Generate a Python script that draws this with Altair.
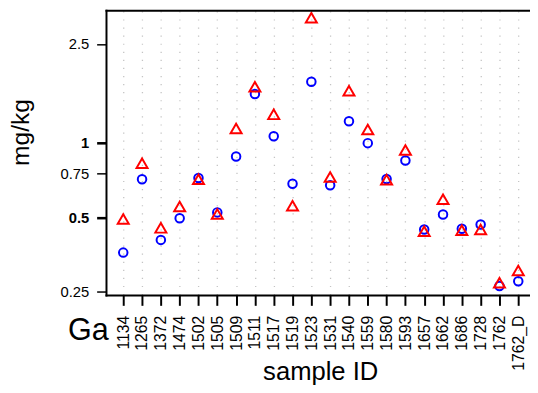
import altair as alt
import pandas as pd

samples = ["1134", "1265", "1372", "1474", "1502", "1505", "1509", "1511", "1517", "1519",
           "1523", "1531", "1540", "1559", "1580", "1593", "1657", "1662", "1686", "1728",
           "1762", "1762_D"]
circle_vals = [0.360, 0.712, 0.405, 0.495, 0.720, 0.523, 0.879, 1.57, 1.06, 0.682,
               1.76, 0.673, 1.22, 0.995, 0.713, 0.847, 0.446, 0.513, 0.449, 0.467,
               0.264, 0.276]
triangle_vals = [0.492, 0.826, 0.453, 0.552, 0.712, 0.515, 1.14, 1.68, 1.30, 0.556,
                 3.19, 0.727, 1.62, 1.13, 0.709, 0.934, 0.439, 0.591, 0.443, 0.446,
                 0.272, 0.305]
y_ticks = [0.25, 0.5, 0.75, 1, 2.5]
element = "Ga"

FONT = "Liberation Sans"
W, H = 430, 289

df_c = pd.DataFrame({"sample": samples, "value": circle_vals})
df_t = pd.DataFrame({"sample": samples, "value": triangle_vals})

bold_test = "datum.value == 1 || datum.value == 0.5"

x_enc = alt.X(
    "sample:N",
    sort=samples,
    scale=alt.Scale(type="point", padding=0.757, align=0.588),
    axis=alt.Axis(
        title="sample ID", titleFont=FONT, titleFontSize=26, titleFontWeight="normal",
        titleColor="black", titleX=217, titleY=85, titleBaseline="alphabetic",
        titleAlign="center",
        labelAngle=270, labelFont=FONT, labelFontSize=16, labelColor="black",
        labelPadding=10,
        tickSize=10, tickWidth=2, tickColor="black",
        grid=True, gridDash=[1.2, 7], gridColor="#c4c4c4", gridWidth=1.3,
        domain=False,
    ),
)

y_enc = alt.Y(
    "value:Q",
    scale=alt.Scale(type="log", domain=[0.2417, 3.40], nice=False, zero=False),
    axis=alt.Axis(
        values=y_ticks, labelExpr="'' + datum.value",
        title="mg/kg", titleFont=FONT, titleFontSize=25, titleFontWeight="normal",
        titleColor="black", titleAngle=270, titleX=-79.5, titleY=123,
        titleAlign="center", titleBaseline="alphabetic",
        labelFont=FONT, labelFontSize=15, labelColor="black", labelPadding=8,
        labelFontWeight={"condition": {"test": bold_test, "value": "bold"}, "value": "normal"},
        tickSize=10, tickColor="black",
        tickWidth={"condition": {"test": bold_test, "value": 2.6}, "value": 1.5},
        grid=False, domain=False,
    ),
)

circles = alt.Chart(df_c).mark_point(
    shape="circle", filled=False, color="#0000ff", size=75, strokeWidth=2, opacity=1
).encode(x=x_enc, y=y_enc)

triangles = alt.Chart(df_t).mark_point(
    shape="triangle-up", filled=False, color="#ff0000", size=125, strokeWidth=2, opacity=1
).encode(x=x_enc, y=y_enc)

label = alt.Chart(pd.DataFrame({"t": [element]})).mark_text(
    font=FONT, fontSize=31, color="black", align="left", baseline="alphabetic"
).encode(text="t:N", x=alt.value(-39), y=alt.value(334))

frame_top = alt.Chart().mark_rule(color="black", strokeWidth=2).encode(
    x=alt.value(-1), x2=alt.value(W + 5), y=alt.value(0))
frame_left = alt.Chart().mark_rule(color="black", strokeWidth=2).encode(
    x=alt.value(0), y=alt.value(-1), y2=alt.value(H + 1))
frame_bottom = alt.Chart().mark_rule(color="black", strokeWidth=2).encode(
    x=alt.value(-1), x2=alt.value(W + 5), y=alt.value(H))

chart = alt.layer(circles, triangles, label, frame_top, frame_left, frame_bottom).properties(
    width=W, height=H,
    autosize=alt.AutoSizeParams(type="none"),
    padding={"left": 100, "top": 0, "right": 0, "bottom": 88},
).configure_view(stroke=None)

chart.save("out.html", embed_options={"renderer": "svg", "actions": False})
